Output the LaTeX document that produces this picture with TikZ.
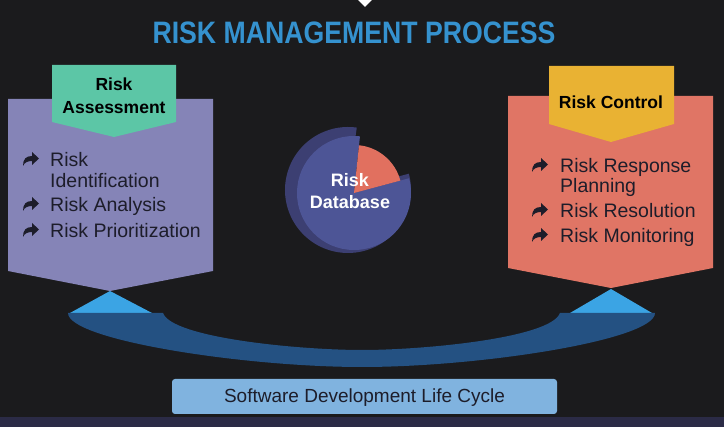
\documentclass[tikz,border=0pt]{standalone}
\usepackage{fontspec}
\setmainfont{Liberation Sans}
\usepackage{xcolor}
\usetikzlibrary{calc}

\definecolor{bgdark}{HTML}{1B1B1D}
\definecolor{stripdark}{HTML}{2B2B46}
\definecolor{titleblue}{HTML}{3592CF}
\definecolor{panelviolet}{HTML}{8584B7}
\definecolor{tabgreen}{HTML}{5CC6A6}
\definecolor{panelsalmon}{HTML}{E07565}
\definecolor{tabyellow}{HTML}{E9B233}
\definecolor{ringdark}{HTML}{3C3F72}
\definecolor{discblue}{HTML}{4D5596}
\definecolor{wedgesalmon}{HTML}{E1705F}
\definecolor{triblue}{HTML}{3BA4E4}
\definecolor{bandblue}{HTML}{245182}
\definecolor{boxblue}{HTML}{80B3DF}
\definecolor{inkdark}{HTML}{1D1D2A}

\tikzset{
  itemtext/.style={font=\fontsize{19.5}{21}\selectfont, text=inkdark, anchor=base west, inner sep=0pt},
  tabtext/.style={font=\bfseries\fontsize{17.5}{23}\selectfont, align=center, text=black, inner sep=0pt},
  sharearrow/.pic={\fill[inkdark] (0,12) .. controls (0,5) and (3,2) .. (9,2) -- (9,-2) -- (16,4.5) -- (9,11) -- (9,7) .. controls (4.5,7) and (1.5,8.5) .. (0,12) -- cycle;},
}

\begin{document}
\begin{tikzpicture}[x=1pt, y=-1pt]
      \useasboundingbox (0,0) rectangle (724,427);%
      \fill[bgdark] (0,0) rectangle (724,427);%
      \fill[stripdark] (0,417) rectangle (724,427);%
      \fill[white] (358,0) -- (372,0) -- (365,7) -- cycle;%

      \node[font=\bfseries\fontsize{31}{31}\selectfont, text=titleblue, xscale=0.86] (title) at (354,33) {RISK MANAGEMENT PROCESS};%

      % left panel
      \fill[panelviolet] (8,99) -- (213,99) -- (213,271) -- (110,291) -- (8,271) -- cycle;%
      \fill[tabgreen] (52,65) -- (176,65) -- (176,122) -- (114,137) -- (52,122) -- cycle;%
      \node[tabtext] (assess) at (114,96) {Risk\\Assessment};%
      \pic at (23,154) {sharearrow};%
      \node[itemtext] (ident1) at (50,167) {Risk};%
      \node[itemtext] (ident2) at (50,188) {Identification};%
      \pic at (23,199) {sharearrow};%
      \node[itemtext] (analysis) at (50,212) {Risk Analysis};%
      \pic at (23,225) {sharearrow};%
      \node[itemtext] (prior) at (50,238) {Risk Prioritization};%

      % right panel
      \fill[panelsalmon] (508,96) -- (713,96) -- (713,268) -- (611,288) -- (508,268) -- cycle;%
      \fill[tabyellow] (549,66) -- (674,66) -- (674,124) -- (611,142) -- (549,124) -- cycle;%
      \node[tabtext] (control) at (611,102) {Risk Control};%
      \pic at (532,160) {sharearrow};%
      \node[itemtext] (resp1) at (560,173) {Risk Response};%
      \node[itemtext] (resp2) at (560,193) {Planning};%
      \pic at (532,205) {sharearrow};%
      \node[itemtext] (resol) at (560,218) {Risk Resolution};%
      \pic at (532,230) {sharearrow};%
      \node[itemtext] (monit) at (560,243) {Risk Monitoring};%

      % database disc
      \fill[ringdark] (348,190) -- ++(-82:63) arc[start angle=-82, end angle=-375, radius=63] -- cycle;%
      \fill[discblue] (354,193) -- ++(-84:57) arc[start angle=-84, end angle=-375, radius=57] -- cycle;%
      \fill[wedgesalmon] (354,193) -- ++(-15:48) arc[start angle=-15, end angle=-84, radius=48] -- cycle;%
      \node[font=\bfseries\fontsize{18}{22}\selectfont, text=white, align=center] (db) at (350,191) {Risk\\Database};%

      % life cycle band
      \fill[triblue] (70,313) -- (110,291) -- (152,313) -- cycle;%
      \fill[triblue] (570,313) -- (611,289) -- (652,313) -- cycle;%
      \fill[bandblue] (68,313) -- (163,313) .. controls (172,338) and (300,350) .. (362,350)
        .. controls (424,350) and (551,338) .. (560,313) -- (655,313)
        .. controls (655,340) and (480,367) .. (362,367)
        .. controls (244,367) and (68,340) .. (68,313) -- cycle;%
      \node[fill=boxblue, rounded corners=3pt, minimum width=385pt, minimum height=35pt,
        font=\fontsize{19}{21}\selectfont, text=inkdark, text depth=1pt] (sdlc) at (364.5,396.5) {Software Development Life Cycle};%
\end{tikzpicture}
\end{document}
